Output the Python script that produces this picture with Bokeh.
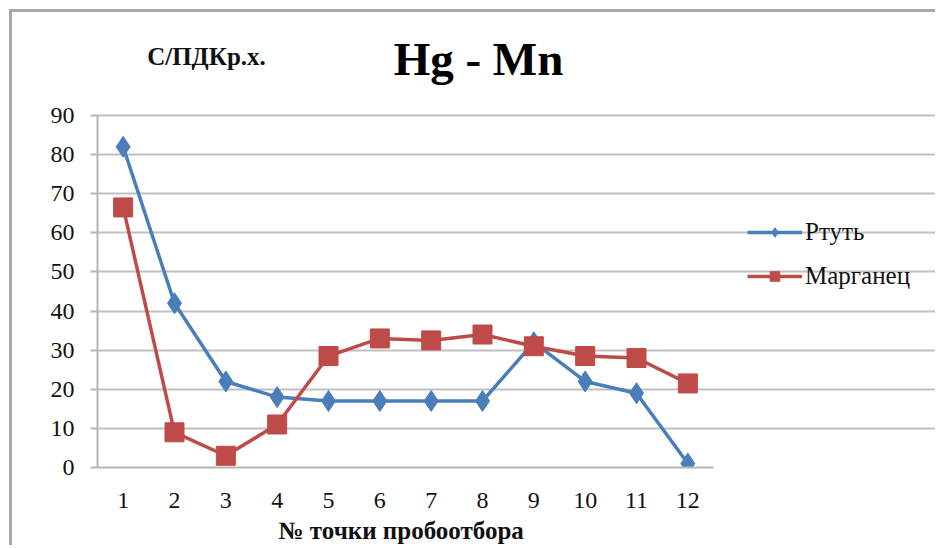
from bokeh.plotting import figure
from bokeh.models import Legend, LegendItem, Label, FixedTicker, Range1d, Title
from bokeh.embed import file_html
from bokeh.resources import INLINE

points = [1, 2, 3, 4, 5, 6, 7, 8, 9, 10, 11, 12]
hg = [82, 42, 22, 18, 17, 17, 17, 17, 32, 22, 19, 1]
mn = [66.5, 9, 3, 11, 28.5, 33, 32.5, 34, 31, 28.5, 28, 21.5]
y_ticks = [0, 10, 20, 30, 40, 50, 60, 70, 80, 90]
series_names = ["Ртуть", "Марганец"]
title_text = "Hg - Mn"
ylabel_text = "С/ПДКр.х."
xlabel_text = "№ точки пробоотбора"

# layout geometry (window pixels)
OX, OY = 12, 12            # canvas origin in window (after margin + border)
W, H = 938 - OX, 548 - OY
FL, FR, FT, FB = 97, 713, 115, 467   # plotting-area box in window px
FONT = "Liberation Serif"

x_lo, x_hi = 0.5, 12.5
y_lo, y_hi = 0, 90
ppx = (FR - FL) / (x_hi - x_lo)
ppy = (FB - FT) / (y_hi - y_lo)
x_end = x_lo + (938 - FL) / ppx
y_end = y_lo + (FB - OY) / ppy

p = figure(width=W, height=H, output_backend="svg", toolbar_location=None,
           x_range=Range1d(x_lo, x_end), y_range=Range1d(y_lo, y_end),
           min_border_left=FL - OX, min_border_right=0,
           min_border_top=0, min_border_bottom=548 - FB)
p.styles = {"border-left": "3px solid #a8a8a8", "border-top": "3px solid #a8a8a8",
            "margin-left": "9px", "margin-top": "9px"}
p.background_fill_color = "white"
p.border_fill_color = "white"
p.outline_line_color = None

p.xgrid.grid_line_color = None
p.ygrid.grid_line_color = "#c0c0c0"
p.ygrid.grid_line_width = 2
p.ygrid.ticker = FixedTicker(ticks=y_ticks)
p.ygrid.bounds = (x_lo, x_hi)

p.yaxis.ticker = FixedTicker(ticks=y_ticks)
p.xaxis.ticker = FixedTicker(ticks=points)
p.yaxis.bounds = (y_lo, y_hi)
p.xaxis.bounds = (x_lo, x_hi)
for ax in (p.xaxis, p.yaxis):
    ax.axis_line_color = "#b5b5b5"
    ax.axis_line_width = 2
    ax.major_label_text_font = FONT
    ax.major_label_text_font_size = "24px"
    ax.major_label_text_color = "#111111"
    ax.minor_tick_line_color = None
p.yaxis.major_tick_line_color = "#b5b5b5"
p.yaxis.major_tick_line_width = 2
p.yaxis.major_tick_out = 7
p.yaxis.major_tick_in = 0
p.yaxis.major_label_standoff = 16
p.xaxis.major_tick_line_color = None
p.xaxis.major_label_standoff = 19

p.add_layout(Title(text=xlabel_text, align="left", offset=278 - FL, standoff=8,
                   text_font=FONT, text_font_style="bold", text_font_size="25px",
                   text_color="#111111"), "below")

blue = "#4a7ebb"
red = "#be4b48"
l1 = p.line(points, hg, line_color=blue, line_width=3.5)
m1 = p.scatter(points, hg, marker="diamond", size=21, fill_color=blue, line_color=blue)
l2 = p.line(points, mn, line_color=red, line_width=3.5)
m2 = p.scatter(points, mn, marker="square", size=19, fill_color=red, line_color=red)

legend = Legend(items=[LegendItem(label=series_names[0], renderers=[l1, m1]),
                       LegendItem(label=series_names[1], renderers=[l2, m2])],
                location=(747 - FL, FB - 290), padding=0, margin=0, spacing=16,
                glyph_width=55, glyph_height=24, label_standoff=3,
                label_text_font=FONT, label_text_font_size="25px",
                label_text_color="#111111", border_line_color=None,
                background_fill_alpha=0)
p.add_layout(legend)

p.add_layout(Label(x=478 - FL, y=FB - 58, x_units="screen", y_units="screen",
                   text=title_text, text_font=FONT, text_font_style="bold",
                   text_font_size="47px", text_align="center", text_baseline="alphabetic",
                   text_color="#000000"))
p.add_layout(Label(x=206 - FL, y=FB - 56, x_units="screen", y_units="screen",
                   text=ylabel_text, text_font=FONT, text_font_style="bold",
                   text_font_size="25px", text_align="center", text_baseline="alphabetic",
                   text_color="#111111"))

open("out.html", "w").write(file_html(p, INLINE))
